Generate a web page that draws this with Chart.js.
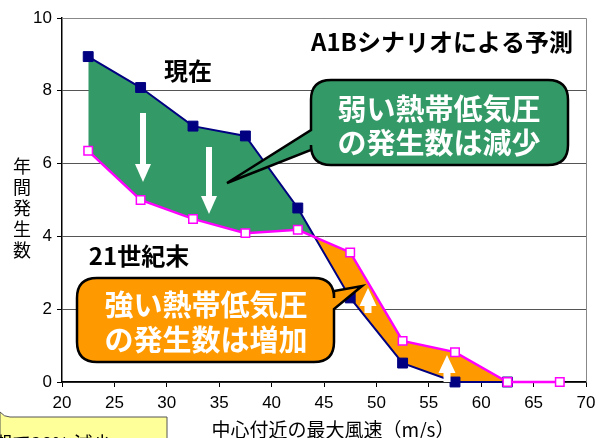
<!DOCTYPE html>
<html>
<head>
<meta charset="utf-8">
<script src="https://cdn.jsdelivr.net/npm/chart.js@4/dist/chart.umd.min.js"></script>
<style>
  body { margin: 0; background: #fff; }
  canvas { display: block; }
</style>
</head>
<body>
<canvas id="chart" width="608" height="438"></canvas>
<script>
// 中心付近の最大風速 (m/s) ごとの年間発生数
const windSpeed = [22.5, 27.5, 32.5, 37.5, 42.5, 47.5, 52.5, 57.5, 62.5, 67.5]
const presentCounts = [8.94, 8.09, 7.03, 6.76, 4.78, 2.31, 0.52, 0.0, 0.0, null]   // 現在
const futureCounts = [6.35, 5.0, 4.48, 4.09, 4.18, 3.56, 1.13, 0.82, 0.0, 0.0]     // 21世紀末
const xTicks = [20, 25, 30, 35, 40, 45, 50, 55, 60, 65, 70]
const yTicks = [0, 2, 4, 6, 8, 10]

const JP = '"Noto Sans CJK JP", sans-serif'
const NUM = '"Liberation Sans", Arial, sans-serif'

const toPoints = arr => windSpeed.map((x, i) => ({x: x, y: arr[i]}))

function roundRectPath(ctx, l, t, r, b, rad, tail) {
    ctx.beginPath()
    ctx.moveTo(l + rad, t)
    ctx.lineTo(r - rad, t)
    ctx.quadraticCurveTo(r, t, r, t + rad)
    if (tail && tail.side == 'right') {
        ctx.lineTo(r, tail.y1)
        ctx.lineTo(tail.tx, tail.ty)
        ctx.lineTo(r, tail.y2)
    }
    ctx.lineTo(r, b - rad)
    ctx.quadraticCurveTo(r, b, r - rad, b)
    ctx.lineTo(l + rad, b)
    ctx.quadraticCurveTo(l, b, l, b - rad)
    if (tail && tail.side == 'left') {
        ctx.lineTo(l, tail.y2)
        ctx.lineTo(tail.tx, tail.ty)
        ctx.lineTo(l, tail.y1)
    }
    ctx.lineTo(l, t + rad)
    ctx.quadraticCurveTo(l, t, l + rad, t)
    ctx.closePath()
}

function arrow(ctx, x, from, to, half, shaft) {
    // from = tail end, to = tip
    const dir = to > from ? 1 : -1
    const headBase = to - dir * 18
    ctx.fillStyle = '#fff'
    ctx.fillRect(x - shaft / 2, Math.min(from, headBase), shaft, Math.abs(headBase - from) + 1)
    ctx.beginPath()
    ctx.moveTo(x - half, headBase)
    ctx.lineTo(x + half, headBase)
    ctx.lineTo(x, to)
    ctx.closePath()
    ctx.fill()
}

const annotations = {
    id: 'annotations',
    afterDatasetsDraw(chart) {
        const ctx = chart.ctx
        const a = chart.chartArea
        ctx.save()

        // frame top / right
        ctx.strokeStyle = '#888'
        ctx.lineWidth = 1
        ctx.beginPath()
        ctx.moveTo(a.left, a.top + 0.5)
        ctx.lineTo(a.right + 0.5, a.top + 0.5)
        ctx.lineTo(a.right + 0.5, a.bottom)
        ctx.stroke()

        // arrows
        arrow(ctx, 143, 113, 182, 8, 6)
        arrow(ctx, 209, 147, 214, 8, 6)
        arrow(ctx, 368, 312, 288, 8.5, 7)
        arrow(ctx, 447, 381, 355, 8.5, 7)

        // green callout
        roundRectPath(ctx, 311, 80, 568, 165, 20, {side: 'left', y1: 130, y2: 150, tx: 227, ty: 183})
        ctx.fillStyle = '#339966'
        ctx.fill()
        ctx.lineWidth = 2.5
        ctx.strokeStyle = '#000'
        ctx.stroke()

        // orange callout
        roundRectPath(ctx, 77, 278, 334, 362, 20, {side: 'right', y1: 291, y2: 309, tx: 362, ty: 286})
        ctx.fillStyle = '#FF9900'
        ctx.fill()
        ctx.stroke()

        ctx.textAlign = 'center'
        ctx.textBaseline = 'middle'
        ctx.fillStyle = '#fff'
        ctx.font = 'bold 29px ' + JP
        ctx.fillText('弱い熱帯低気圧', 439, 109)
        ctx.fillText('の発生数は減少', 439, 143)
        ctx.fillText('強い熱帯低気圧', 206, 305)
        ctx.fillText('の発生数は増加', 206, 340)

        ctx.fillStyle = '#000'
        ctx.font = 'bold 24px ' + JP
        ctx.fillText('A1Bシナリオによる予測', 442, 42)
        ctx.fillText('現在', 188, 71)
        ctx.fillText('21世紀末', 139, 256)

        // axis titles
        ctx.font = '18px ' + JP
        const yTitle = '年間発生数'
        for (let i = 0; i < yTitle.length; i++) {
            ctx.fillText(yTitle[i], 22, 166 + i * 21)
        }
        ctx.font = '19px ' + JP
        ctx.fillText('中心付近の最大風速（m/s）', 333, 430)

        // yellow note box (cut off at the bottom)
        ctx.beginPath()
        ctx.moveTo(0, 412)
        ctx.quadraticCurveTo(4, 417, 10, 417)
        ctx.lineTo(167, 417)
        ctx.lineTo(167, 460)
        ctx.lineTo(0, 460)
        ctx.closePath()
        ctx.fillStyle = '#FFFF99'
        ctx.fill()
        ctx.strokeStyle = '#555'
        ctx.lineWidth = 1
        ctx.stroke()
        ctx.fillStyle = '#000'
        ctx.textAlign = 'left'
        ctx.textBaseline = 'alphabetic'
        ctx.font = '19px ' + JP
        ctx.fillText('期で28% 減少', -7, 451)

        ctx.restore()
    }
}

new Chart(document.getElementById('chart').getContext('2d'), {
    type: 'line',
    data: {
        datasets: [{
            label: '21世紀末',
            data: toPoints(futureCounts),
            borderColor: '#FF00FF',
            borderWidth: 2.5,
            pointStyle: 'rect',
            pointRadius: 6,
            pointBackgroundColor: '#fff',
            pointBorderColor: '#FF00FF',
            pointBorderWidth: 1.5,
            fill: false,
            tension: 0,
            clip: false
        }, {
            label: '現在',
            data: toPoints(presentCounts),
            borderColor: '#000080',
            borderWidth: 2,
            pointStyle: 'rect',
            pointRadius: 7,
            pointBackgroundColor: '#000080',
            pointBorderColor: '#000080',
            pointBorderWidth: 1,
            fill: {target: 0, above: '#339966', below: '#FF9900'},
            tension: 0,
            clip: false
        }]
    },
    options: {
        responsive: false,
        animation: false,
        layout: {padding: {top: 18, right: 22, left: 0, bottom: 0}},
        plugins: {legend: {display: false}, tooltip: {enabled: false}},
        scales: {
            x: {
                type: 'linear',
                min: 20, max: 70,
                afterFit: s => { s.height = 56 },
                afterBuildTicks: s => { s.ticks = xTicks.map(v => ({value: v})) },
                grid: {drawOnChartArea: false, tickLength: 5, tickColor: '#000'},
                border: {color: '#000', width: 1.5},
                ticks: {font: {family: NUM, size: 17}, color: '#000', padding: 6, maxRotation: 0}
            },
            y: {
                min: 0, max: 10,
                afterFit: s => { s.width = 62 },
                afterBuildTicks: s => { s.ticks = yTicks.map(v => ({value: v})) },
                grid: {color: '#555', lineWidth: 1, tickLength: 5, tickColor: '#000'},
                border: {color: '#000', width: 1.5},
                ticks: {font: {family: NUM, size: 17}, color: '#000', padding: 5}
            }
        }
    },
    plugins: [annotations]
})
</script>
</body>
</html>
